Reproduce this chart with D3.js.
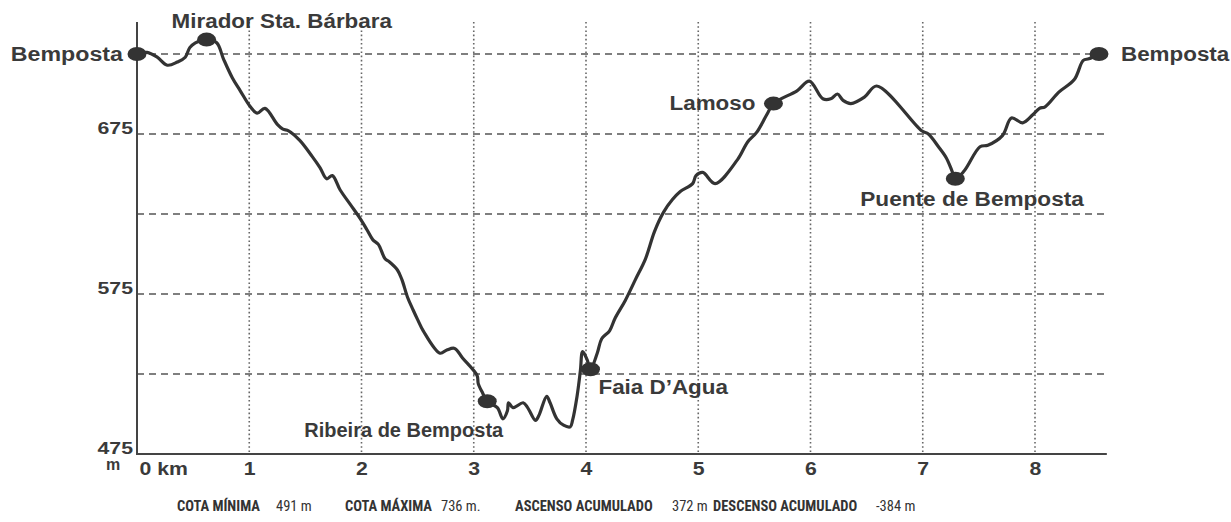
<!DOCTYPE html>
<html>
<head>
<meta charset="utf-8">
<script src="https://cdn.jsdelivr.net/npm/d3@7"></script>
<style>
  html, body { margin: 0; padding: 0; background: #fff; }
  svg { display: block; }
</style>
</head>
<body>
<svg id="chart" width="1231" height="522"></svg>
<script>
// Elevation profile of the Bemposta loop: distance (km) and altitude (m)
const distanceKm = [
  0.00, 0.09, 0.18, 0.27, 0.36, 0.43, 0.47, 0.52, 0.62, 0.71, 0.77, 0.85, 0.92, 1.01, 1.07, 1.14,
  1.25, 1.30, 1.35, 1.45, 1.56, 1.63, 1.69, 1.74, 1.81, 1.90, 1.99, 2.05, 2.10, 2.15, 2.21, 2.25,
  2.32, 2.36, 2.41, 2.46, 2.50, 2.55, 2.70, 2.76, 2.83, 2.90, 3.03, 3.04, 3.08, 3.12, 3.21, 3.26,
  3.30, 3.31, 3.35, 3.44, 3.48, 3.55, 3.58, 3.65, 3.68, 3.74, 3.80, 3.86, 3.88, 3.92, 3.95, 3.97,
  4.01, 4.04, 4.10, 4.14, 4.21, 4.26, 4.35, 4.44, 4.53, 4.61, 4.69, 4.77, 4.84, 4.95, 4.98, 5.04,
  5.15, 5.35, 5.44, 5.52, 5.61, 5.67, 5.88, 5.99, 6.11, 6.18, 6.24, 6.29, 6.36, 6.48, 6.59, 6.99,
  7.05, 7.14, 7.21, 7.26, 7.29, 7.37, 7.51, 7.58, 7.71, 7.79, 7.89, 7.98, 8.04, 8.09, 8.21, 8.35,
  8.43, 8.48, 8.57
];
const altitudeM = [
  725, 726, 723, 718, 720, 723, 729, 732, 734, 732, 722, 710, 702, 692, 688, 691,
  681, 678, 677, 671, 661, 654, 647, 649, 640, 631, 622, 615, 609, 606, 597, 595,
  590, 584, 573, 565, 559, 552, 538, 540, 541, 535, 524, 519, 513, 508, 504, 497,
  502, 507, 504, 507, 504, 496, 499, 511, 507, 497, 493, 492, 496, 511, 527, 539,
  534, 528, 538, 547, 552, 560, 571, 584, 597, 614, 626, 634, 639, 644, 649, 651,
  644, 659, 670, 676, 687, 694, 702, 708, 697, 697, 700, 696, 694, 698, 705, 677,
  675, 667, 660, 652, 647, 652, 667, 668, 674, 685, 682, 687, 691, 692, 701, 709,
  721, 722, 725
];

// Named points along the route
const waypointNames = ["Bemposta", "Mirador Sta. Bárbara", "Ribeira de Bemposta", "Faia D’Agua",
                       "Lamoso", "Puente de Bemposta", "Bemposta"];
const waypointKm = [0.00, 0.62, 3.12, 4.04, 5.67, 7.29, 8.57];
const waypointM  = [725, 734, 508, 528, 694, 647, 725];

// Axis ticks and reference lines
const distanceTicks = [0, 1, 2, 3, 4, 5, 6, 7, 8];
const altitudeTicks = [475, 575, 675];
const altitudeGrid  = [525, 575, 625, 675, 725];

// Route summary shown under the chart
const statLabels = ["COTA MÍNIMA", "COTA MÁXIMA", "ASCENSO ACUMULADO", "DESCENSO ACUMULADO"];
const statValues = ["491 m", "736 m.", "372 m", "-384 m"];

const svg = d3.select("#chart");
const ink = "#3a3a3a";
const labelFont = "'Liberation Sans', Arial, sans-serif";

const x = d3.scaleLinear().domain([0, 8]).range([137, 1035]);
const y = d3.scaleLinear().domain([475, 725]).range([454, 54]);
const xEnd = 8.64;
const yTop = 745;

// widen bold labels slightly, as in the printed profile
function stretch(sel, k) {
  sel.each(function (d) {
    const f = typeof k === "function" ? k(d) : k;
    if (f === 1) return;
    const w = this.getComputedTextLength();
    d3.select(this).attr("textLength", w * f).attr("lengthAdjust", "spacingAndGlyphs");
  });
}

// horizontal dashed grid
svg.append("g").selectAll("line").data(altitudeGrid).join("line")
  .attr("x1", x(0)).attr("x2", x(xEnd))
  .attr("y1", d => y(d)).attr("y2", d => y(d))
  .attr("stroke", "#555").attr("stroke-width", 1.3)
  .attr("stroke-dasharray", "7,5");

// vertical dotted grid
svg.append("g").selectAll("line").data(distanceTicks.filter(d => d > 0)).join("line")
  .attr("x1", d => x(d)).attr("x2", d => x(d))
  .attr("y1", y(yTop)).attr("y2", y(475))
  .attr("stroke", "#666").attr("stroke-width", 1.6)
  .attr("stroke-dasharray", "1.6,2.6");

// axes
const xAxis = svg.append("g").attr("transform", `translate(0,${y(475)})`)
  .call(d3.axisBottom(x).tickValues(distanceTicks).tickSize(0).tickPadding(8)
    .tickFormat(d => d === 0 ? "0 km" : d));
xAxis.select(".domain").remove();
xAxis.selectAll("text")
  .attr("font-family", labelFont).attr("font-weight", "bold").attr("font-size", 18)
  .attr("fill", ink)
  .attr("text-anchor", d => d === 0 ? "start" : "middle")
  .attr("dx", d => d === 0 ? 2 : 0);
stretch(xAxis.selectAll("text"), 1.18);

const yAxis = svg.append("g").attr("transform", `translate(${x(0)},0)`)
  .call(d3.axisLeft(y).tickValues(altitudeTicks).tickSize(0).tickPadding(4));
yAxis.select(".domain").remove();
yAxis.selectAll("text")
  .attr("font-family", labelFont).attr("font-weight", "bold").attr("font-size", 17)
  .attr("fill", ink).attr("dy", "-0.02em");
stretch(yAxis.selectAll("text"), 1.25);

// unit label under the altitude ticks
svg.append("text").text("m")
  .attr("x", 113).attr("y", 470).attr("text-anchor", "middle")
  .attr("font-family", labelFont).attr("font-weight", "bold").attr("font-size", 16)
  .attr("fill", ink);

// axis lines
svg.append("line").attr("x1", x(0)).attr("x2", x(0)).attr("y1", y(yTop)).attr("y2", y(475))
  .attr("stroke", "#444").attr("stroke-width", 2);
svg.append("line").attr("x1", x(0) - 1).attr("x2", x(xEnd)).attr("y1", y(475)).attr("y2", y(475))
  .attr("stroke", "#444").attr("stroke-width", 2);

// profile line
const profile = distanceKm.map((d, i) => [d, altitudeM[i]]);
svg.append("path").datum(profile)
  .attr("fill", "none").attr("stroke", "#333").attr("stroke-width", 3.2)
  .attr("stroke-linejoin", "round").attr("stroke-linecap", "round")
  .attr("d", d3.line().x(d => x(d[0])).y(d => y(d[1])).curve(d3.curveCatmullRom.alpha(0.5)));

// waypoint markers and names
const place = [
  { dx: -14, dy: 7, anchor: "end", k: 1.16 },
  { dx: -35, dy: -12, anchor: "start", k: 1.12 },
  { dx: 16, dy: 36, anchor: "end", k: 1 },
  { dx: 8, dy: 25, anchor: "start", k: 1.12 },
  { dx: -18, dy: 6, anchor: "end", k: 1.12 },
  { dx: -95, dy: 27, anchor: "start", k: 1.13 },
  { dx: 22, dy: 7, anchor: "start", k: 1.12 }
];
const wp = waypointNames.map((n, i) => ({ name: n, km: waypointKm[i], m: waypointM[i], p: place[i] }));

svg.append("g").selectAll("ellipse").data(wp).join("ellipse")
  .attr("cx", d => x(d.km)).attr("cy", d => y(d.m))
  .attr("rx", 9.5).attr("ry", 7).attr("fill", "#333");

const names = svg.append("g").selectAll("text").data(wp).join("text")
  .text(d => d.name)
  .attr("x", d => x(d.km) + d.p.dx).attr("y", d => y(d.m) + d.p.dy)
  .attr("text-anchor", d => d.p.anchor)
  .attr("font-family", labelFont).attr("font-weight", "bold").attr("font-size", 20)
  .attr("fill", ink);
stretch(names, d => d.p.k);

// summary line
const statFont = "'Liberation Sans Narrow', 'Arial Narrow', 'Roboto Condensed', sans-serif";
const statX = [177, 345, 515, 713];
const valueX = [276, 441, 672, 876];
const foot = svg.append("g");
foot.selectAll("text.lab").data(statLabels).join("text").attr("class", "lab")
  .text(d => d).attr("x", (d, i) => statX[i]).attr("y", 511)
  .attr("font-family", statFont).attr("font-weight", "bold").attr("font-size", 14.5)
  .attr("fill", "#333");
foot.selectAll("text.val").data(statValues).join("text").attr("class", "val")
  .text(d => d).attr("x", (d, i) => valueX[i]).attr("y", 511)
  .attr("font-family", statFont).attr("font-size", 14.5)
  .attr("fill", "#333");
</script>
</body>
</html>
